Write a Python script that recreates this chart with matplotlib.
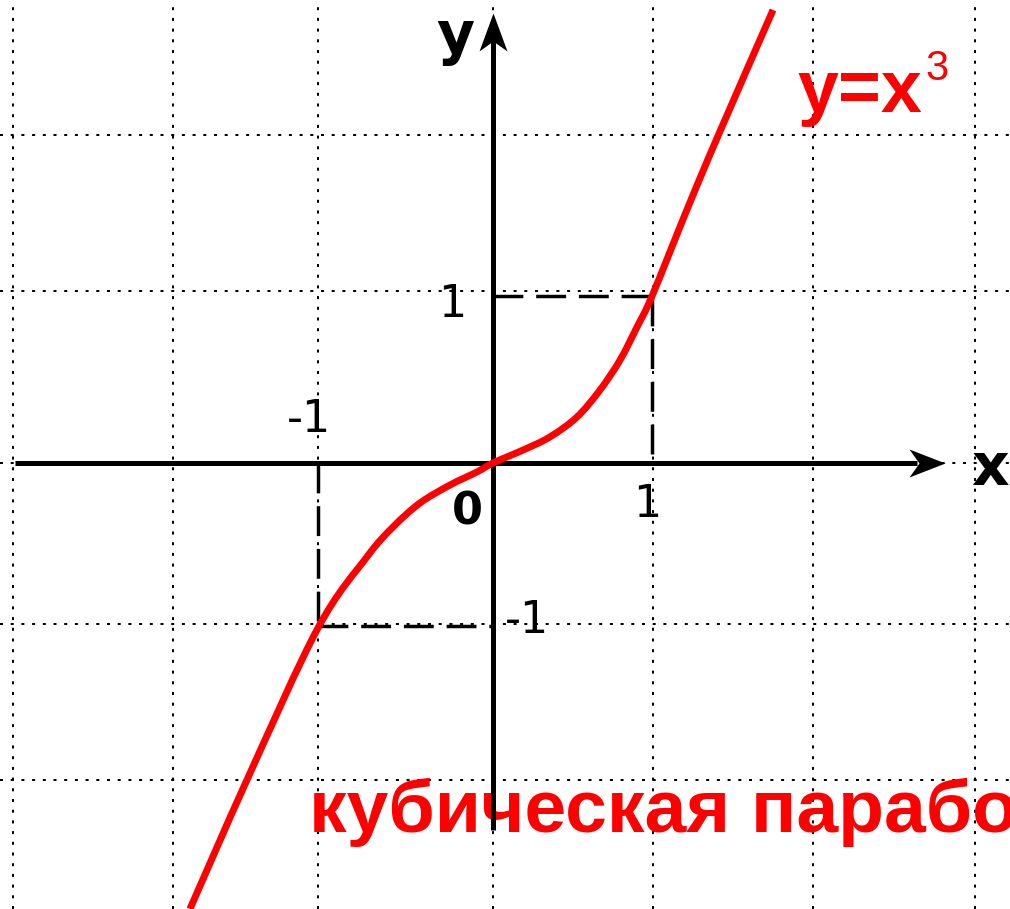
import numpy as np
import matplotlib
matplotlib.use('Agg')
import matplotlib.pyplot as plt
from matplotlib.path import Path
from matplotlib.patches import PathPatch

# curve y = x^3 as drawn (points picked along the sketch)
curve_x = [-1.894, -1.538, -1.094, -0.788, -0.625, -0.456, -0.269, -0.100, 0.0,
           0.188, 0.356, 0.525, 0.669, 0.794, 0.900, 0.994, 1.219, 1.406, 1.750]
curve_y = [-2.687, -1.910, -0.994, -0.566, -0.386, -0.241, -0.133, -0.054, 0.0,
           0.078, 0.157, 0.277, 0.440, 0.620, 0.819, 1.006, 1.542, 1.970, 2.729]

# dotted grid
grid_x = [-3.0, -2.0, -1.094, 0.0, 1.0, 2.0, 3.012]
grid_y = [1.976, 1.036, 0.0, -0.970, -1.910]

# marked points (-1, -1) and (1, 1)
mark_lo = (-1.094, -0.982)
mark_hi = (0.994, 1.006)

# tick labels: text, x, y
tick_labels = [('1', -0.256, 0.880), ('-1', -1.15, 0.187),
               ('1', 0.9625, -0.325), ('-1', 0.2125, -1.024)]


def smooth_path(xs, ys):
    # Catmull-Rom through the points, written as cubic Bezier segments
    pts = np.column_stack([xs, ys])
    n = len(pts)
    verts = [pts[0]]
    codes = [Path.MOVETO]
    for i in range(n - 1):
        p0 = pts[max(i - 1, 0)]
        p1 = pts[i]
        p2 = pts[i + 1]
        p3 = pts[min(i + 2, n - 1)]
        verts += [p1 + (p2 - p0) / 6, p2 - (p3 - p1) / 6, p2]
        codes += [Path.CURVE4] * 3
    return Path(verts, codes)


fig = plt.figure(figsize=(10.1, 9.09), dpi=100)
ax = fig.add_axes([0, 0, 1, 1])
ax.set_xlim(-3.081, 3.231)
ax.set_ylim(-2.687, 2.789)
ax.axis('off')

dot = (0, (1.5, 3.85))
for gx in grid_x:
    ax.axvline(gx, color='black', lw=1.44, ls=dot, zorder=1)
for gy in grid_y:
    ax.axhline(gy, color='black', lw=1.44, ls=dot, zorder=1)

# dashed projections onto the axes
dash = (0, (8.6, 3.7))
ax.plot([mark_lo[0], mark_lo[0]], [0, mark_lo[1]], color='black', lw=2.5, ls=dash, zorder=2)
ax.plot([mark_lo[0], 0], [mark_lo[1], mark_lo[1]], color='black', lw=2.5, ls=dash, zorder=2)
ax.plot([0, mark_hi[0]], [mark_hi[1], mark_hi[1]], color='black', lw=2.5, ls=dash, zorder=2)
ax.plot([mark_hi[0], mark_hi[0]], [mark_hi[1], 0], color='black', lw=2.5, ls=dash, zorder=2)

# red captions (under the axes lines)
ax.text(-1.15, -2.223, 'кубическая парабола', color='red', fontsize=54,
        fontweight='bold', family='Liberation Sans', ha='left', va='baseline', zorder=3)
ax.text(1.906, 2.114, 'y=x', color='red', fontsize=53,
        fontweight='bold', family='Liberation Sans', ha='left', va='baseline', zorder=3)
ax.text(2.70, 2.307, '3', color='red', fontsize=30,
        family='Liberation Sans', ha='left', va='baseline', zorder=3)

# axes with stealth-like arrowheads
ax.plot([-2.9875, 2.65], [0, 0], color='black', lw=3.6, solid_capstyle='butt', zorder=4)
ax.plot([0, 0], [-2.211, 2.542], color='black', lw=3.6, solid_capstyle='butt', zorder=4)
head_right = Path([(0, 0), (-36, 14), (-26, 0), (-36, -14), (0, 0)],
                  [Path.MOVETO, Path.LINETO, Path.LINETO, Path.LINETO, Path.CLOSEPOLY])
head_up = Path([(0, 0), (-14, -38), (0, -28), (14, -38), (0, 0)],
               [Path.MOVETO, Path.LINETO, Path.LINETO, Path.LINETO, Path.CLOSEPOLY])
ax.plot([2.825], [0], marker=head_right, markersize=36 / (0.5 * 100 / 72),
        color='black', mew=0, zorder=4)
ax.plot([0], [2.711], marker=head_up, markersize=38 / (0.5 * 100 / 72),
        color='black', mew=0, zorder=4)

ax.add_patch(PathPatch(smooth_path(curve_x, curve_y), fill=False, edgecolor='red',
                       lw=5, capstyle='butt', joinstyle='round', zorder=5))

# labels
ax.text(-0.2375, 2.464, 'y', fontsize=42, fontweight='bold', ha='center', va='baseline', zorder=6)
ax.text(2.99, -0.1325, 'x', fontsize=42, fontweight='bold', ha='left', va='baseline', zorder=6)
ax.text(-0.1625, -0.3735, '0', fontsize=32, fontweight='bold', ha='center', va='baseline', zorder=6)
for txt, tx, ty in tick_labels:
    ax.text(tx, ty, txt, fontsize=32, ha='center', va='baseline', zorder=6)

fig.savefig('out.png', dpi=100)
